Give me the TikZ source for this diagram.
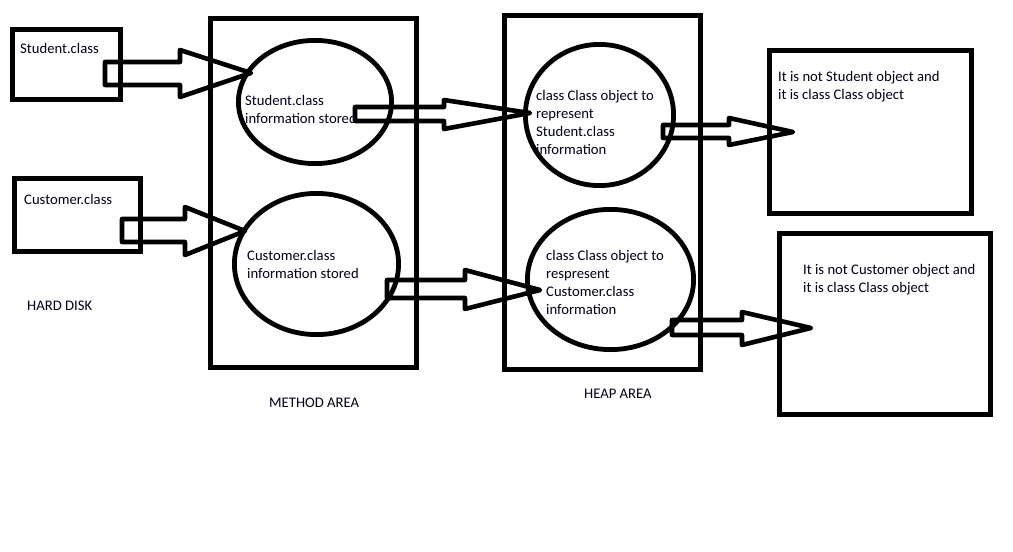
\documentclass[tikz,border=0pt]{standalone}
\usepackage{fontspec}
\setmainfont{Carlito}
\begin{document}
\begin{tikzpicture}[x=1pt,y=-1pt,
  thick line/.style={line width=4.8pt,line join=miter},
  boxline/.style={thick line},
  blockarrow/.style={line width=4.6pt,line join=round},
  lbl/.style={anchor=base west,inner sep=0pt,align=left,font=\fontsize{14.67pt}{18pt}\selectfont,text=black!90!blue}]
\useasboundingbox[fill=white] (0,0) rectangle (1013,552);
% rectangles
\draw[boxline] (12.5,29.5) rectangle (120.5,99.5);
\draw[boxline] (14.5,178.5) rectangle (140.5,251.5);
\draw[boxline] (210.5,18.5) rectangle (416.5,367.5);
\draw[boxline] (504.5,15.5) rectangle (700.5,369.5);
\draw[boxline] (769.5,50.5) rectangle (971.5,213.5);
\draw[boxline] (779.5,233.5) rectangle (990.5,414.5);
% ellipses
\draw[thick line] (315,102) ellipse [x radius=76.6,y radius=61.6];
\draw[thick line] (316.5,264) ellipse [x radius=82.1,y radius=70.6];
\draw[thick line] (599.5,115) ellipse [x radius=74.1,y radius=70.6];
\draw[thick line] (610.5,279.5) ellipse [x radius=83.1,y radius=70.1];
% block arrows
\draw[blockarrow] (105,62) -- (180,62) -- (180,50) -- (251,73) -- (180,97) -- (180,85) -- (105,85) -- cycle;
\draw[blockarrow] (122,219) -- (185,219) -- (185,207) -- (245,231) -- (185,255) -- (185,242) -- (122,242) -- cycle;
\draw[blockarrow] (355,107) -- (444,107) -- (444,100) -- (530,113) -- (444,129) -- (444,121) -- (355,121) -- cycle;
\draw[blockarrow] (387,280) -- (465,280) -- (465,270) -- (540,290) -- (465,309) -- (465,298) -- (387,298) -- cycle;
\draw[blockarrow] (663,125) -- (729,125) -- (729,118) -- (793,132) -- (729,145) -- (729,138) -- (663,138) -- cycle;
\draw[blockarrow] (672,320) -- (742,320) -- (742,312) -- (811,328) -- (742,345) -- (742,335) -- (672,335) -- cycle;
% texts (base anchor = baseline of last line)
\node[lbl] (t1) at (20,53) {Student.class};
\node[lbl] (t2) at (24,204) {Customer.class};
\node[lbl] (t3) at (245,123) {Student.class\\information stored};
\node[lbl] (t4) at (247,278) {Customer.class\\information stored};
\node[lbl] (t5) at (27,310) {HARD DISK};
\node[lbl] (t6) at (269,407) {METHOD AREA};
\node[lbl] (t7) at (584,398) {HEAP AREA};
\node[lbl] (t8) at (536,154) {class Class object to\\represent\\Student.class\\information};
\node[lbl] (t9) at (546,314) {class Class object to\\respresent\\Customer.class\\information};
\node[lbl] (t10) at (778,99) {It is not Student object and\\it is class Class object};
\node[lbl] (t11) at (803,292) {It is not Customer object and\\it is class Class object};
\end{tikzpicture}
\end{document}
